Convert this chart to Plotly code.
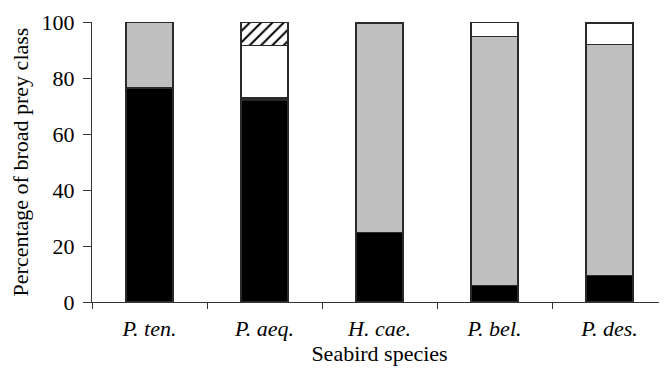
import plotly.graph_objects as go

species = ["P. ten.", "P. aeq.", "H. cae.", "P. bel.", "P. des."]
black_vals = [76.4, 72.1, 24.8, 6.0, 9.5]
grey_vals = [23.6, 0.8, 74.6, 88.7, 82.5]
white_vals = [0.0, 18.7, 0.6, 5.3, 7.5]
hatched_vals = [0.0, 8.4, 0.0, 0.0, 0.5]
y_ticks = [0, 20, 40, 60, 80, 100]

ticklabels = ["<i>%s</i>" % s for s in species]
line = dict(color="#2a2a2a", width=1.3)
W = 0.41

fig = go.Figure()
fig.add_bar(x=species, y=black_vals, width=W, marker=dict(color="black", line=line))
fig.add_bar(x=species, y=grey_vals, width=W, marker=dict(color="#c0c0c0", line=line))
fig.add_bar(x=species, y=white_vals, width=W, marker=dict(color="white", line=line))
fig.add_bar(x=species, y=hatched_vals, width=W,
            marker=dict(color="white", line=line,
                        pattern=dict(shape="/", fgcolor="black", bgcolor="white",
                                     fgopacity=1, size=8, solidity=0.25)))

font = dict(family="Liberation Serif", size=22, color="black")
fig.update_layout(
    barmode="stack",
    width=667, height=368,
    margin=dict(l=84, r=8, t=14, b=73.5, autoexpand=False),
    plot_bgcolor="white", paper_bgcolor="white",
    showlegend=False,
    font=font,
    xaxis=dict(
        type="category", tickson="boundaries", ticks="outside", ticklen=6,
        tickcolor="#333", showline=True, linecolor="#333", linewidth=1,
        tickvals=species, ticktext=ticklabels, range=[-0.5, 4.5],
        ticklabelstandoff=7, automargin=False,
        title=dict(text="Seabird species", font=font, standoff=0),
        showgrid=False, zeroline=False,
    ),
    yaxis=dict(
        range=[0, 100], tickvals=y_ticks, ticks="outside",
        ticklen=8, tickcolor="#333", showline=True, linecolor="#333", linewidth=1,
        showgrid=False, zeroline=False, ticklabelstandoff=4, automargin=False,
        title=dict(text="Percentage of broad prey class", font=font, standoff=10),
    ),
)
fig.write_html("out.html")
